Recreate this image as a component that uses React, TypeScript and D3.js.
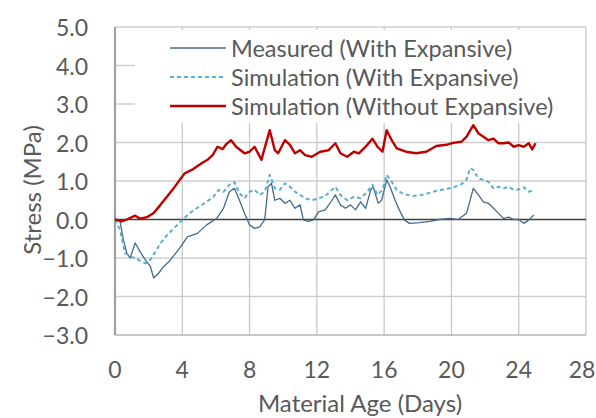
import React from "react";
import * as d3 from "d3";

// Stress development over material age (days)
const measuredDays = [0, 0.3, 0.5, 0.7, 0.9, 1.2, 1.5, 1.8, 2.1, 2.3, 2.6, 2.9, 3.2, 3.6, 3.9, 4.3, 4.9, 5.45, 6.05, 6.45, 6.8, 7.1, 7.4, 7.7, 8.0, 8.3, 8.6, 8.9, 9.1, 9.3, 9.5, 9.8, 10.1, 10.4, 10.7, 11.0, 11.2, 11.5, 11.8, 12.1, 12.5, 12.9, 13.1, 13.4, 13.7, 14.0, 14.3, 14.6, 14.9, 15.2, 15.35, 15.65, 15.85, 16.15, 16.35, 16.65, 16.9, 17.2, 17.5, 18.1, 18.7, 19.3, 19.9, 20.4, 20.9, 21.3, 21.6, 21.9, 22.2, 22.5, 22.8, 23.1, 23.4, 23.7, 24.0, 24.3, 24.6, 24.9];
const measuredStress = [0, -0.05, -0.53, -0.87, -1.0, -0.61, -0.84, -1.05, -1.22, -1.52, -1.39, -1.22, -1.1, -0.88, -0.71, -0.45, -0.36, -0.14, 0.03, 0.29, 0.72, 0.81, 0.5, 0.16, -0.14, -0.23, -0.19, -0.01, 0.85, 0.94, 0.5, 0.55, 0.42, 0.5, 0.29, 0.38, -0.01, -0.05, -0.01, 0.2, 0.25, 0.5, 0.64, 0.38, 0.29, 0.38, 0.25, 0.46, 0.29, 0.77, 0.85, 0.42, 0.5, 1.03, 0.85, 0.5, 0.25, -0.01, -0.1, -0.08, -0.05, 0.0, 0.03, 0.0, 0.16, 0.81, 0.64, 0.46, 0.42, 0.29, 0.16, 0.03, 0.06, 0.0, 0.0, -0.1, -0.01, 0.12];

const simWithDays = [0, 0.3, 0.6, 1.0, 1.4, 1.8, 2.1, 2.4, 2.7, 3.1, 3.5, 3.9, 4.2, 4.55, 4.95, 5.45, 5.85, 6.15, 6.45, 6.8, 7.1, 7.4, 7.7, 8.0, 8.3, 8.6, 8.9, 9.2, 9.5, 9.8, 10.1, 10.4, 10.7, 11.0, 11.3, 11.7, 12.1, 12.5, 12.9, 13.1, 13.4, 13.8, 14.2, 14.6, 15.0, 15.3, 15.6, 15.9, 16.15, 16.45, 16.75, 17.15, 17.7, 18.3, 18.9, 19.5, 20.1, 20.6, 20.9, 21.1, 21.3, 21.6, 21.9, 22.2, 22.5, 22.8, 23.1, 23.4, 23.7, 24.0, 24.3, 24.6, 24.9];
const simWithStress = [0, -0.27, -0.88, -0.97, -1.05, -1.14, -1.05, -0.84, -0.62, -0.4, -0.23, -0.06, 0.07, 0.2, 0.32, 0.46, 0.59, 0.77, 0.72, 0.9, 0.97, 0.68, 0.55, 0.72, 0.77, 0.64, 0.72, 1.16, 0.81, 0.77, 0.94, 0.85, 0.72, 0.64, 0.55, 0.5, 0.55, 0.61, 0.77, 0.85, 0.64, 0.5, 0.59, 0.55, 0.72, 0.9, 0.64, 0.77, 1.16, 0.98, 0.77, 0.66, 0.61, 0.64, 0.72, 0.78, 0.83, 0.92, 1.03, 1.33, 1.29, 1.07, 1.03, 0.98, 0.81, 0.85, 0.81, 0.85, 0.77, 0.78, 0.84, 0.72, 0.77];

const simWithoutDays = [0, 0.4, 0.7, 1.2, 1.5, 1.9, 2.3, 2.7, 3.1, 3.45, 3.85, 4.15, 4.65, 5.15, 5.5, 5.8, 6.1, 6.4, 6.6, 6.9, 7.2, 7.7, 8.0, 8.3, 8.7, 9.2, 9.5, 9.7, 10.1, 10.4, 10.7, 11.0, 11.3, 11.7, 12.2, 12.7, 13.1, 13.4, 13.8, 14.2, 14.5, 14.9, 15.3, 15.6, 15.9, 16.15, 16.45, 16.75, 17.3, 17.9, 18.5, 19.1, 19.7, 20.1, 20.6, 20.9, 21.3, 21.6, 21.9, 22.2, 22.5, 22.8, 23.1, 23.4, 23.7, 24.0, 24.3, 24.6, 24.8, 25.0];
const simWithoutStress = [0, -0.05, 0.0, 0.1, 0.02, 0.06, 0.17, 0.38, 0.6, 0.79, 1.03, 1.2, 1.31, 1.46, 1.55, 1.67, 1.89, 1.83, 1.95, 2.06, 1.89, 1.72, 1.76, 1.89, 1.55, 2.32, 1.8, 1.72, 2.06, 1.94, 1.72, 1.8, 1.67, 1.63, 1.76, 1.8, 1.98, 1.72, 1.63, 1.76, 1.72, 1.89, 2.1, 1.89, 1.76, 2.32, 2.06, 1.85, 1.76, 1.72, 1.76, 1.91, 1.94, 1.99, 2.02, 2.15, 2.45, 2.24, 2.15, 2.06, 2.1, 1.98, 1.98, 2.0, 1.89, 1.93, 1.89, 1.98, 1.82, 1.98];

const xTicks = [0, 4, 8, 12, 16, 20, 24, 28];
const yTicks = [-3, -2, -1, 0, 1, 2, 3, 4, 5];

const seriesNames = [
  "Measured (With Expansive)",
  "Simulation (With Expansive)",
  "Simulation (Without Expansive)",
];

const W = 596;
const H = 418;
const FONT = "Lato, 'Open Sans', sans-serif";
const TEXT = "#595959";

export default function App() {
  const x = d3.scaleLinear().domain([0, 28]).range([115, 586]);
  const y = d3.scaleLinear().domain([-3, 5]).range([335, 27]);

  const line = d3
    .line<[number, number]>()
    .x((d) => x(d[0]))
    .y((d) => y(d[1]));

  const zip = (a: number[], b: number[]) =>
    a.map((v, i) => [v, b[i]] as [number, number]);

  const series = [
    { name: seriesNames[0], pts: zip(measuredDays, measuredStress), color: "#456a8c", width: 1.3, dash: undefined },
    { name: seriesNames[1], pts: zip(simWithDays, simWithStress), color: "#5aaed2", width: 2, dash: "4,3" },
    { name: seriesNames[2], pts: zip(simWithoutDays, simWithoutStress), color: "#c00000", width: 2.4, dash: undefined },
  ];

  const legendX = 135;
  const legendY = 30;
  const legendW = 450;
  const legendH = 93;
  const rowY = [48, 77, 106];

  return (
    <svg
      width={W}
      height={H}
      style={{ position: "absolute", left: 0, top: 0, background: "#fff" }}
      fontFamily={FONT}
    >
      <rect x={0} y={0} width={W} height={H} fill="#fff" />
      {/* gridlines */}
      {yTicks.filter((t) => t !== 0 && t !== -3).map((t) => (
        <line key={"gy" + t} x1={x(0)} x2={x(28)} y1={y(t)} y2={y(t)} stroke="#cfcfcf" strokeWidth={1.3} />
      ))}
      {xTicks.filter((t) => t !== 0).map((t) => (
        <line key={"gx" + t} x1={x(t)} x2={x(t)} y1={y(-3)} y2={y(5)} stroke="#c8c8c8" strokeWidth={1.3} />
      ))}
      {/* legend box covers upper grid */}
      <rect x={legendX} y={legendY} width={legendW} height={legendH} fill="#fff" />
      {/* axes */}
      <line x1={x(0)} x2={x(28)} y1={y(-3)} y2={y(-3)} stroke="#b5b5b5" strokeWidth={1.6} />
      <line x1={x(0)} x2={x(0)} y1={y(-3)} y2={y(5)} stroke="#a0a0a0" strokeWidth={2.2} />
      <line x1={x(0)} x2={x(28)} y1={y(0)} y2={y(0)} stroke="#404040" strokeWidth={1.6} />

      {/* series */}
      {series.map((s) => (
        <path
          key={s.name}
          d={line(s.pts) || ""}
          fill="none"
          stroke={s.color}
          strokeWidth={s.width}
          strokeDasharray={s.dash}
          strokeLinejoin="round"
        />
      ))}

      {/* y tick labels */}
      {yTicks.map((t) => (
        <text key={"yl" + t} x={88} y={y(t)} textAnchor="end" dominantBaseline="central" fontSize={23} fill={TEXT}>
          {d3.format(".1f")(t)}
        </text>
      ))}
      {/* x tick labels */}
      {xTicks.map((t) => (
        <text
          key={"xl" + t}
          x={Math.min(x(t), W - 14)}
          y={369}
          textAnchor="middle"
          dominantBaseline="central"
          fontSize={23}
          fill={TEXT}
        >
          {t}
        </text>
      ))}

      {/* axis titles */}
      <text x={360} y={402} textAnchor="middle" dominantBaseline="central" fontSize={24} fill={TEXT}>
        Material Age (Days)
      </text>
      <text
        transform={`translate(31,190) rotate(-90)`}
        textAnchor="middle"
        dominantBaseline="central"
        fontSize={24}
        fill={TEXT}
      >
        Stress (MPa)
      </text>

      {/* legend */}
      {series.map((s, i) => (
        <g key={"lg" + i}>
          <line x1={170} x2={226} y1={rowY[i]} y2={rowY[i]} stroke={s.color} strokeWidth={s.width} strokeDasharray={s.dash} />
          <text x={231} y={rowY[i]} dominantBaseline="central" fontSize={23.5} fill={TEXT}>
            {s.name}
          </text>
        </g>
      ))}
    </svg>
  );
}
